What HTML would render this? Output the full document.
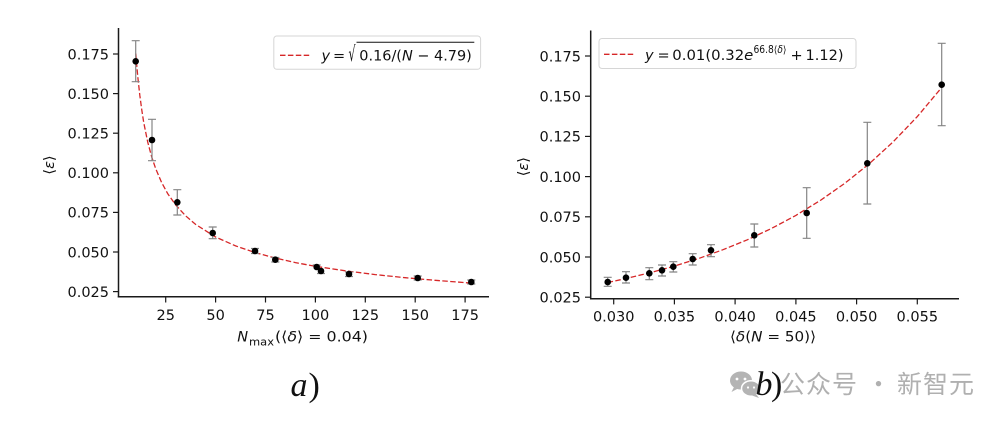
<!DOCTYPE html>
<html><head><meta charset="utf-8"><style>
html,body{margin:0;padding:0;background:#fff;}
svg{display:block;}
text{font-family:"DejaVu Sans","Liberation Sans",sans-serif;fill:#111;}
.tk{font-size:14.5px;}
.it{font-style:italic;}
</style></head><body>
<svg width="1006" height="426" viewBox="0 0 1006 426" xmlns="http://www.w3.org/2000/svg">
<rect width="1006" height="426" fill="#fff"/>

<!-- ============ LEFT PLOT ============ -->
<g stroke="#1a1a1a" stroke-width="1.5" fill="none">
  <line x1="118.5" y1="28" x2="118.5" y2="297.5"/>
  <line x1="117.8" y1="296.8" x2="489" y2="296.8"/>
</g>
<g stroke="#1a1a1a" stroke-width="1.2">
  <line x1="113" y1="54" x2="118" y2="54"/>
  <line x1="113" y1="93.6" x2="118" y2="93.6"/>
  <line x1="113" y1="133.2" x2="118" y2="133.2"/>
  <line x1="113" y1="172.8" x2="118" y2="172.8"/>
  <line x1="113" y1="212.4" x2="118" y2="212.4"/>
  <line x1="113" y1="252" x2="118" y2="252"/>
  <line x1="113" y1="291.6" x2="118" y2="291.6"/>
  <line x1="165.7" y1="297.5" x2="165.7" y2="302.5"/>
  <line x1="215.6" y1="297.5" x2="215.6" y2="302.5"/>
  <line x1="265.5" y1="297.5" x2="265.5" y2="302.5"/>
  <line x1="315.4" y1="297.5" x2="315.4" y2="302.5"/>
  <line x1="365.3" y1="297.5" x2="365.3" y2="302.5"/>
  <line x1="415.2" y1="297.5" x2="415.2" y2="302.5"/>
  <line x1="465.1" y1="297.5" x2="465.1" y2="302.5"/>
</g>
<g class="tk" text-anchor="end">
  <text x="109" y="59.3">0.175</text>
  <text x="109" y="98.9">0.150</text>
  <text x="109" y="138.5">0.125</text>
  <text x="109" y="178.1">0.100</text>
  <text x="109" y="217.7">0.075</text>
  <text x="109" y="257.3">0.050</text>
  <text x="109" y="296.9">0.025</text>
</g>
<g class="tk" text-anchor="middle">
  <text x="165.7" y="320">25</text>
  <text x="215.6" y="320">50</text>
  <text x="265.5" y="320">75</text>
  <text x="315.4" y="320">100</text>
  <text x="365.3" y="320">125</text>
  <text x="415.2" y="320">150</text>
  <text x="465.1" y="320">175</text>
</g>
<!-- x label -->
<text x="237.3" y="341.7" font-size="14.5" class="it">N</text>
<text x="249" y="345.5" font-size="10.5" textLength="25" lengthAdjust="spacingAndGlyphs">max</text>
<text x="275" y="341.7" font-size="14.5" textLength="93" lengthAdjust="spacingAndGlyphs">(⟨<tspan class="it">δ</tspan>⟩ = 0.04)</text>
<!-- y label -->
<text transform="translate(54,165) rotate(-90)" font-size="14.5" text-anchor="middle">⟨<tspan class="it">ε</tspan>⟩</text>

<!-- fit curve left -->
<polyline fill="none" stroke="#d62728" stroke-width="1.3" stroke-dasharray="5.5 2.4"
 points="135.8,53.6 136.8,66.0 137.8,76.9 139.8,95.2 141.8,110.1 143.7,122.4 147.7,142.0 151.7,156.9 155.7,168.7 161.7,182.7 167.7,193.6 175.7,205.0 185.7,215.9 195.6,224.4 215.6,237.0 235.6,245.9 255.5,252.7 275.5,258.1 295.4,262.6 315.4,266.3 345.3,270.8 375.3,274.6 405.2,277.7 435.2,280.3 471.1,283.1"/>

<!-- error bars left -->
<g stroke="#858585" stroke-width="1.2" fill="none">
  <path d="M135.7,40.7V81.7M131.7,40.7H139.7M131.7,81.7H139.7"/>
  <path d="M152,119.3V160.7M148,119.3H156M148,160.7H156"/>
  <path d="M177.3,189.7V215M173.3,189.7H181.3M173.3,215H181.3"/>
  <path d="M212.7,227V238.7M208.7,227H216.7M208.7,238.7H216.7"/>
  <path d="M255,248.5V253.5M251,248.5H259M251,253.5H259"/>
  <path d="M275.3,257.5V262M271.3,257.5H279.3M271.3,262H279.3"/>
  <path d="M316.7,265V269M312.7,265H320.7"/>
  <path d="M321,269V273.5M317,273.5H325"/>
  <path d="M349,272V276.5M345,272H353M345,276.5H353"/>
  <path d="M417.7,276V280M413.7,276H421.7M413.7,280H421.7"/>
  <path d="M471.3,280V284M467.3,280H475.3M467.3,284H475.3"/>
</g>
<g fill="#000">
  <circle cx="135.7" cy="61.3" r="3.3"/>
  <circle cx="152" cy="140" r="3.3"/>
  <circle cx="177.3" cy="202.3" r="3.3"/>
  <circle cx="212.7" cy="233" r="3.3"/>
  <circle cx="255" cy="251" r="3.3"/>
  <circle cx="275.3" cy="259.7" r="3.3"/>
  <circle cx="316.7" cy="267" r="3.3"/>
  <circle cx="321" cy="271" r="3.3"/>
  <circle cx="349" cy="274" r="3.3"/>
  <circle cx="417.7" cy="278" r="3.3"/>
  <circle cx="471.3" cy="282" r="3.3"/>
</g>

<!-- legend left -->
<rect x="273.8" y="36" width="206.8" height="33.3" rx="3" ry="3" fill="#fff" fill-opacity="0.85" stroke="#d6d6d6" stroke-width="1"/>
<line x1="280" y1="55.3" x2="310" y2="55.3" stroke="#d62728" stroke-width="1.3" stroke-dasharray="5.5 2.4"/>
<text x="321.5" y="60.3" font-size="14.5" class="it">y</text>
<text x="333" y="60.3" font-size="14.5">=</text>
<text transform="translate(348.5,61) scale(0.75,1.45)" font-size="14.5">√</text>
<line x1="356.5" y1="42.3" x2="474.3" y2="42.3" stroke="#111" stroke-width="1"/>
<text x="359.3" y="60.3" font-size="14.5" textLength="112.5" lengthAdjust="spacingAndGlyphs">0.16/(<tspan class="it">N</tspan> − 4.79)</text>

<text x="290.5" y="396" font-size="34" style="font-family:'Liberation Serif',serif;font-style:italic">a</text>
<text x="308.5" y="396" font-size="34" style="font-family:'Liberation Serif',serif">)</text>

<!-- ============ RIGHT PLOT ============ -->
<g stroke="#1a1a1a" stroke-width="1.5" fill="none">
  <line x1="590.7" y1="30.5" x2="590.7" y2="299.5"/>
  <line x1="590" y1="298.7" x2="959" y2="298.7"/>
</g>
<g stroke="#1a1a1a" stroke-width="1.2">
  <line x1="585" y1="56" x2="590" y2="56"/>
  <line x1="585" y1="96.2" x2="590" y2="96.2"/>
  <line x1="585" y1="136.4" x2="590" y2="136.4"/>
  <line x1="585" y1="176.6" x2="590" y2="176.6"/>
  <line x1="585" y1="216.8" x2="590" y2="216.8"/>
  <line x1="585" y1="257" x2="590" y2="257"/>
  <line x1="585" y1="297.2" x2="590" y2="297.2"/>
  <line x1="613.7" y1="299.4" x2="613.7" y2="304.4"/>
  <line x1="674.4" y1="299.4" x2="674.4" y2="304.4"/>
  <line x1="735.1" y1="299.4" x2="735.1" y2="304.4"/>
  <line x1="795.9" y1="299.4" x2="795.9" y2="304.4"/>
  <line x1="856.6" y1="299.4" x2="856.6" y2="304.4"/>
  <line x1="917.3" y1="299.4" x2="917.3" y2="304.4"/>
</g>
<g class="tk" text-anchor="end">
  <text x="581" y="61.3">0.175</text>
  <text x="581" y="101.5">0.150</text>
  <text x="581" y="141.7">0.125</text>
  <text x="581" y="181.9">0.100</text>
  <text x="581" y="222.1">0.075</text>
  <text x="581" y="262.3">0.050</text>
  <text x="581" y="302.5">0.025</text>
</g>
<g class="tk" text-anchor="middle">
  <text x="613.7" y="321.7">0.030</text>
  <text x="674.4" y="321.7">0.035</text>
  <text x="735.1" y="321.7">0.040</text>
  <text x="795.9" y="321.7">0.045</text>
  <text x="856.6" y="321.7">0.050</text>
  <text x="917.3" y="321.7">0.055</text>
</g>
<text x="730" y="341.5" font-size="14.5" textLength="86" lengthAdjust="spacingAndGlyphs">⟨<tspan class="it">δ</tspan>(<tspan class="it">N</tspan> = 50)⟩</text>
<text transform="translate(528,166.7) rotate(-90)" font-size="14.5" text-anchor="middle">⟨<tspan class="it">ε</tspan>⟩</text>

<polyline fill="none" stroke="#d62728" stroke-width="1.3" stroke-dasharray="5.5 2.4"
 points="607.6,282.5 625.8,278.6 650.1,272.7 674.4,266.1 698.7,258.5 723.0,249.7 747.3,239.8 771.6,228.4 795.9,215.4 820.1,200.6 844.4,183.6 868.7,164.2 893.0,142.0 917.3,116.6 941.6,87.6"/>

<g stroke="#858585" stroke-width="1.2" fill="none">
  <path d="M607.7,277.3V286.3M603.7,277.3H611.7M603.7,286.3H611.7"/>
  <path d="M626,271.7V283M622,271.7H630M622,283H630"/>
  <path d="M649.3,267.7V279.7M645.3,267.7H653.3M645.3,279.7H653.3"/>
  <path d="M662,265V276M658,265H666M658,276H666"/>
  <path d="M673.3,261.7V272M669.3,261.7H677.3M669.3,272H677.3"/>
  <path d="M692.7,253.7V265M688.7,253.7H696.7M688.7,265H696.7"/>
  <path d="M711,244.7V256.7M707,244.7H715M707,256.7H715"/>
  <path d="M754.3,224V247M750.3,224H758.3M750.3,247H758.3"/>
  <path d="M806.7,187.7V238.3M802.7,187.7H810.7M802.7,238.3H810.7"/>
  <path d="M867.3,122.3V204M863.3,122.3H871.3M863.3,204H871.3"/>
  <path d="M941.7,43.3V125.7M937.7,43.3H945.7M937.7,125.7H945.7"/>
</g>
<g fill="#000">
  <circle cx="607.7" cy="282" r="3.3"/>
  <circle cx="626" cy="277.7" r="3.3"/>
  <circle cx="649.3" cy="273.3" r="3.3"/>
  <circle cx="662" cy="270.3" r="3.3"/>
  <circle cx="673.3" cy="266.7" r="3.3"/>
  <circle cx="692.7" cy="259" r="3.3"/>
  <circle cx="711" cy="250.3" r="3.3"/>
  <circle cx="754.3" cy="235.3" r="3.3"/>
  <circle cx="806.7" cy="213" r="3.3"/>
  <circle cx="867.3" cy="163.3" r="3.3"/>
  <circle cx="941.7" cy="84.7" r="3.3"/>
</g>

<!-- legend right -->
<rect x="599" y="38.5" width="257" height="30" rx="3" ry="3" fill="#fff" fill-opacity="0.85" stroke="#d6d6d6" stroke-width="1"/>
<line x1="604" y1="54.3" x2="634.3" y2="54.3" stroke="#d62728" stroke-width="1.3" stroke-dasharray="5.5 2.4"/>
<text x="645" y="60" font-size="14.5" class="it">y</text>
<text x="657.5" y="60" font-size="14.5">=</text>
<text x="672.3" y="60" font-size="14.5" textLength="81" lengthAdjust="spacingAndGlyphs">0.01(0.32<tspan class="it">e</tspan></text>
<text x="753.5" y="53" font-size="10.2" textLength="33" lengthAdjust="spacingAndGlyphs">66.8⟨<tspan class="it">δ</tspan>⟩</text>
<text x="790.5" y="60" font-size="14.5">+</text>
<text x="805.5" y="60" font-size="14.5" textLength="38" lengthAdjust="spacingAndGlyphs">1.12)</text>

<!-- watermark -->
<g fill="#b4b4b4">
  <ellipse cx="741" cy="380.5" rx="11" ry="9"/>
  <path d="M734,387 L731.5,392 L738,388.5 Z"/>
  <ellipse cx="751" cy="388.5" rx="9.5" ry="7.8" stroke="#fff" stroke-width="1.5"/>
  <path d="M756,394 L759,398 L752,395.5 Z"/>
</g>
<g fill="#fff">
  <circle cx="737" cy="379" r="1.4"/><circle cx="745" cy="379" r="1.4"/>
  <circle cx="748" cy="387.5" r="1.1"/><circle cx="754" cy="387.5" r="1.1"/>
</g>
<text x="755.5" y="395" font-size="34" style="font-family:'Liberation Serif',serif;font-style:italic">b</text>
<text x="771" y="395" font-size="34" style="font-family:'Liberation Serif',serif">)</text>
<g font-size="25">
  <text x="780" y="393" style="fill:#b0b0b0;font-family:'Noto Sans CJK SC','WenQuanYi Zen Hei',sans-serif">公</text>
  <text x="806" y="393" style="fill:#b0b0b0;font-family:'Noto Sans CJK SC','WenQuanYi Zen Hei',sans-serif">众</text>
  <text x="832" y="393" style="fill:#b0b0b0;font-family:'Noto Sans CJK SC','WenQuanYi Zen Hei',sans-serif">号</text>
  <text x="866" y="393" style="fill:#b0b0b0;font-family:'Noto Sans CJK SC','WenQuanYi Zen Hei',sans-serif">·</text>
  <text x="897" y="393" style="fill:#b0b0b0;font-family:'Noto Sans CJK SC','WenQuanYi Zen Hei',sans-serif">新</text>
  <text x="923" y="393" style="fill:#b0b0b0;font-family:'Noto Sans CJK SC','WenQuanYi Zen Hei',sans-serif">智</text>
  <text x="949" y="393" style="fill:#b0b0b0;font-family:'Noto Sans CJK SC','WenQuanYi Zen Hei',sans-serif">元</text>
</g>
</svg>
</body></html>
